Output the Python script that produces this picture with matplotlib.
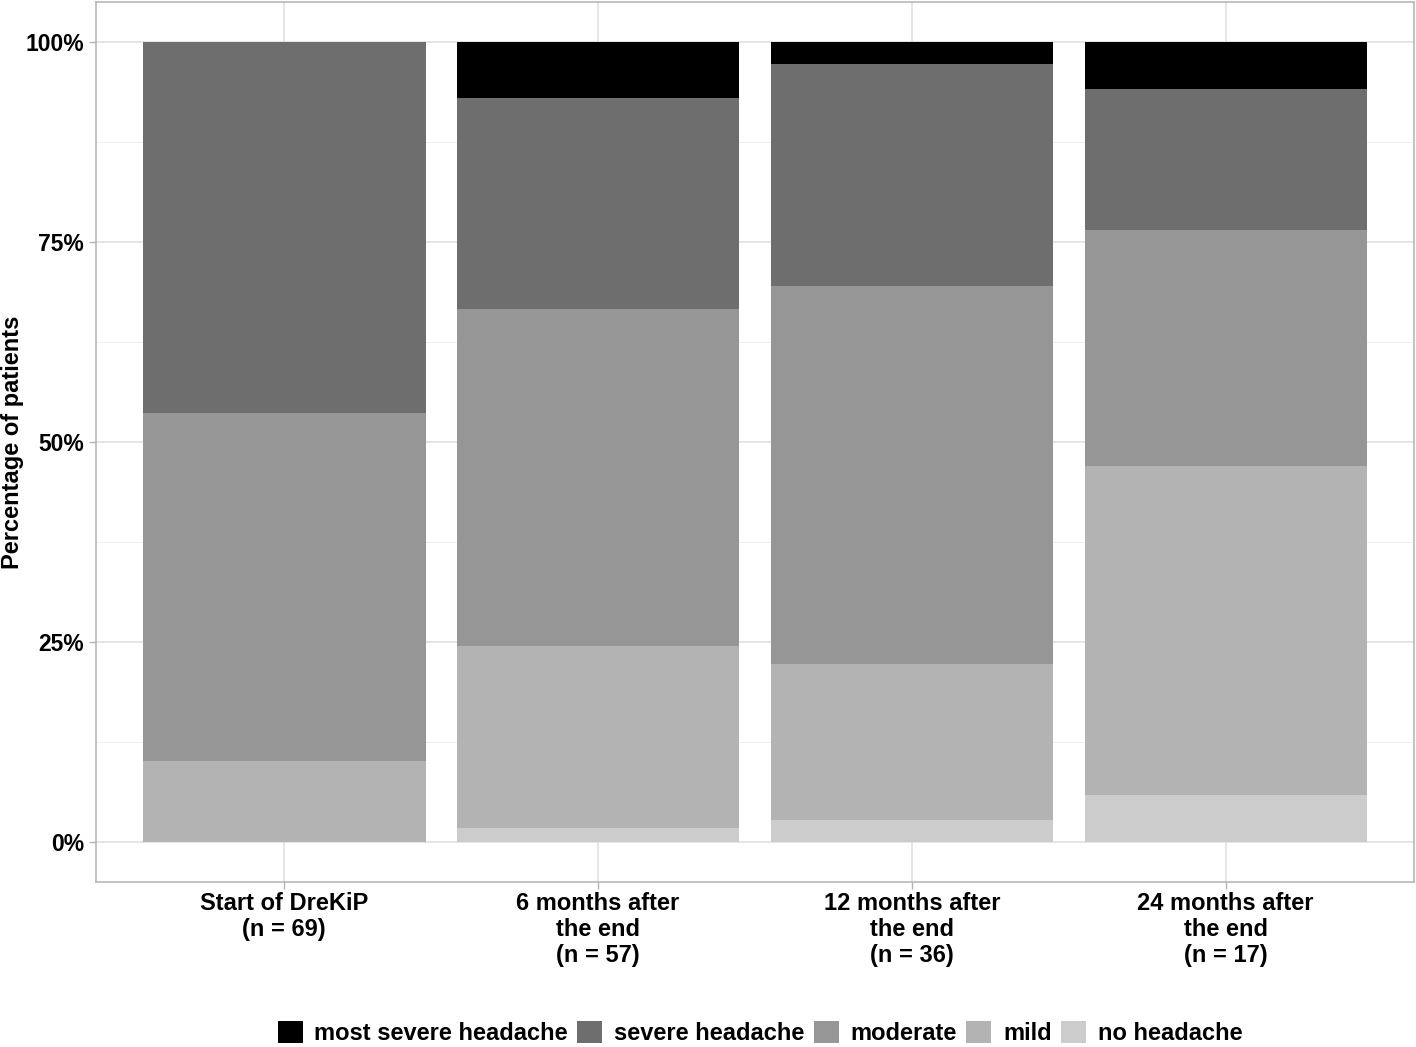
import numpy as np
import matplotlib
matplotlib.use("Agg")
import matplotlib.pyplot as plt
from matplotlib.patches import Patch
from matplotlib.ticker import FixedLocator, PercentFormatter

plt.rcParams['font.family'] = ['Liberation Sans', 'DejaVu Sans']
plt.rcParams['font.weight'] = 'bold'

groups = ["Start of DreKiP\n(n = 69)", "6 months after\nthe end\n(n = 57)",
          "12 months after\nthe end\n(n = 36)", "24 months after\nthe end\n(n = 17)"]
# patient counts per category (bottom -> top)
no_headache = [0, 1, 1, 1]
mild = [7, 13, 7, 7]
moderate = [30, 24, 17, 5]
severe = [32, 15, 10, 3]
most_severe = [0, 4, 1, 1]

cats = ["no headache", "mild", "moderate", "severe headache", "most severe headache"]
colors = ["#cccccc", "#b3b3b3", "#969696", "#6e6e6e", "#000000"]

counts = np.array([no_headache, mild, moderate, severe, most_severe], dtype=float)
share = counts / counts.sum(axis=0)

fig = plt.figure(figsize=(14.16, 10.47), dpi=100)
ax = fig.add_axes([96/1416, 1 - 882/1047, (1414-96)/1416, (882-2)/1047])

x = np.arange(1, len(groups) + 1)
bottom = np.zeros(len(groups))
for vals, c in zip(share, colors):
    ax.bar(x, vals, width=0.9, bottom=bottom, color=c, linewidth=0, zorder=2)
    bottom += vals

ax.set_xlim(0.4, 4.6)
ax.set_ylim(-0.05, 1.05)
ax.set_yticks([0, 0.25, 0.5, 0.75, 1.0])
ax.yaxis.set_major_formatter(PercentFormatter(1.0, decimals=0))
ax.yaxis.set_minor_locator(FixedLocator([0.125, 0.375, 0.625, 0.875]))
ax.set_xticks(x)
ax.set_xticklabels(groups, fontsize=17, fontweight='bold', linespacing=1.17)
ax.tick_params(axis='y', labelsize=16.5, length=5, color='#b3b3b3', width=1)
ax.tick_params(axis='x', length=5, color='#b3b3b3', width=1, pad=2)
ax.tick_params(which='minor', length=0)

ax.grid(True, which='major', color='#dedede', linewidth=1.1, zorder=0)
ax.grid(True, which='minor', axis='y', color='#ececec', linewidth=0.6, zorder=0)
ax.set_axisbelow(True)
for s in ax.spines.values():
    s.set_color('#b3b3b3')
    s.set_linewidth(1.1)

fig.text(13/1416, 1 - 442/1047, "Percentage of patients", rotation=90,
         ha='center', va='center', fontsize=17, fontweight='bold')

handles = [Patch(facecolor=c, edgecolor='none', label=l)
           for c, l in zip(colors[::-1], cats[::-1])]
fig.legend(handles=handles, loc='center', bbox_to_anchor=(760/1416, 1 - 1033/1047),
           ncol=5, frameon=False, fontsize=17, handlelength=1.05, handleheight=1.05,
           handletextpad=0.5, columnspacing=0.4, borderaxespad=0)

fig.savefig("out.png", dpi=100)
